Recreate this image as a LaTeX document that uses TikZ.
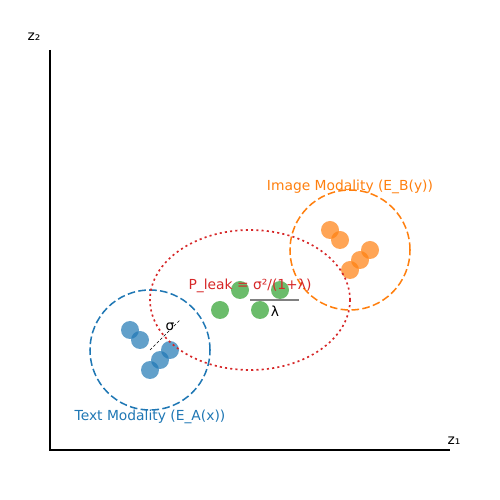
\documentclass[tikz,border=0pt]{standalone}
\usepackage{fontspec}
\setmainfont{DejaVu Sans}
\usetikzlibrary{positioning,calc}
\definecolor{tabblue}{HTML}{1F77B4}
\definecolor{taborange}{HTML}{FF7F0E}
\definecolor{tabgreen}{HTML}{2CA02C}
\definecolor{tabred}{HTML}{D62728}
\tikzset{
  every picture/.style={line width=0.75pt},
  pt/.style={fill opacity=0.7, draw=none},
  lbl/.style={font=\fontsize{10}{12}\selectfont, inner sep=0pt},
  modal/.style={line width=1.1pt, dash pattern=on 5.5pt off 2.4pt},
}

\begin{document}
\begin{tikzpicture}[x=1.016cm, y=1.016cm]
    \useasboundingbox (-1.25,-1.25) rectangle (11.25,11.25);

    % axes
    \draw[line width=1.1pt] (0,10) -- (0,0) -- (10,0);
    \node[lbl] (zone) at (10.1,0.22) {z₁};
    \node[lbl] (ztwo) at (-0.4,10.33) {z₂};

    % text modality
    \draw[modal, tabblue] (2.5,2.5) circle (1.5);
    \foreach \px/\py in {2/3, 2.25/2.75, 2.5/2, 2.75/2.25, 3/2.5}
        \fill[pt, tabblue] (\px,\py) circle (0.225);
    \node[lbl, tabblue] (textlbl) at (2.5,0.82) {Text Modality (E\_A(x))};

    % image modality
    \draw[modal, taborange] (7.5,5) circle (1.5);
    \foreach \px/\py in {7/5.5, 7.25/5.25, 7.5/4.5, 7.75/4.75, 8/5}
        \fill[pt, taborange] (\px,\py) circle (0.225);
    \node[lbl, taborange] (imglbl) at (7.5,6.57) {Image Modality (E\_B(y))};

    % leakage region
    \draw[line width=1.2pt, tabred, dash pattern=on 1.5pt off 2.3pt] (5,3.75) ellipse (2.5 and 1.75);
    \foreach \px/\py in {4.75/4, 5.75/4, 4.25/3.5, 5.25/3.5}
        \fill[pt, tabgreen] (\px,\py) circle (0.225);

    % sigma
    \draw[black, line width=0.5pt, dash pattern=on 2pt off 1.5pt] (2.5,2.5) -- (3.25,3.25);
    \node[lbl] (sig) at (3,3.08) {σ};

    % lambda
    \draw[gray, line width=1pt] (5,3.75) -- (6.22,3.75);
    \node[lbl] (lam) at (5.625,3.47) {λ};

    \node[lbl, tabred] (leak) at (5,4.1) {P\_leak = σ²/(1+λ)};
\end{tikzpicture}
\end{document}
